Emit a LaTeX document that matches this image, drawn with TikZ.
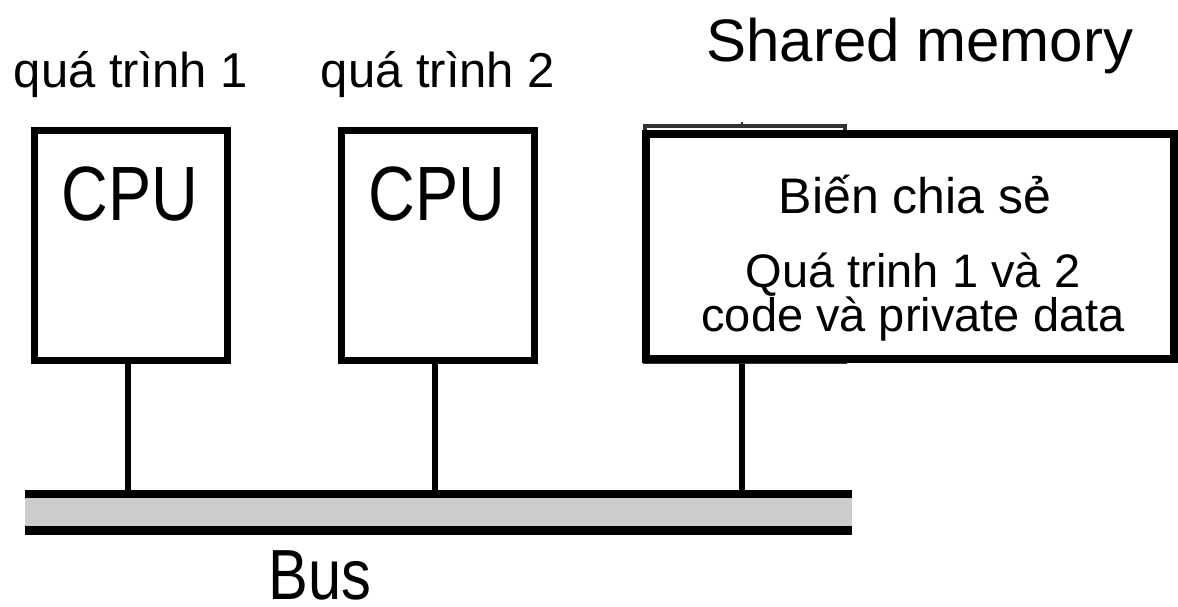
\documentclass[tikz,border=0pt]{standalone}
\usepackage{fontspec}
\setmainfont{Liberation Sans}
\newfontfamily\narrowfont[FakeStretch=0.84]{Liberation Sans}
\begin{document}
\begin{tikzpicture}[x=1pt,y=-1pt,
  cpubox/.style={draw=black,line width=7pt,fill=white},
  link/.style={draw=black,line width=6pt},
  lbl/.style={inner sep=0pt,anchor=base,font=\fontsize{49}{52}\selectfont},
  memtxt/.style={inner sep=0pt,anchor=base,font=\fontsize{47}{50}\selectfont},
  big/.style={inner sep=0pt,anchor=base,font=\narrowfont\fontsize{77}{80}\selectfont}]
\useasboundingbox (0,0) rectangle (1178,607);
% bus
\fill[gray!40] (25,494) rectangle (852,530);
\draw[line width=8pt] (25,494) -- (852,494);
\draw[line width=9pt] (25,530) -- (852,530);
\coordinate (b1) at (128,494);
\coordinate (b2) at (435,494);
\coordinate (b3) at (742,494);
% CPU boxes
\node[cpubox,minimum width=193pt,minimum height=229pt,inner sep=0pt] (cpu1) at (130.5,245.5) {};
\node[cpubox,minimum width=193pt,minimum height=229pt,inner sep=0pt] (cpu2) at (437.5,245.5) {};
\node[big] (t1) at (130,220) {CPU};
\node[big] (t2) at (437,220) {CPU};
% old memory box outline (behind)
\node[draw=black!80,line width=4pt,minimum width=200pt,minimum height=236pt,inner sep=0pt] (mem) at (745,244) {};
\draw[line width=2pt,black!80] (742,122) -- (742,127);
% connectors
\draw[link] (cpu1.south -| b1) -- (b1);
\draw[link] (cpu2.south -| b2) -- (b2);
\draw[link] (mem.south -| b3) -- (b3);
% shared memory box
\node[draw=black,line width=8pt,fill=white,minimum width=528pt,minimum height=225pt,inner sep=0pt] (shm) at (910,246.5) {};
\node[lbl,font=\fontsize{50}{54}\selectfont] (s1) at (915,213) {Biến chia sẻ};
\node[memtxt] (s2) at (913,287) {Quá trinh 1 và 2};
\node[memtxt] (s3) at (913,331) {code và private data};
% labels
\node[lbl] (p1) at (131,88) {quá trình 1};
\node[lbl] (p2) at (438,88) {quá trình 2};
\node[inner sep=0pt,anchor=base,font=\fontsize{60}{64}\selectfont] (sm) at (920,62) {Shared memory};
\node[big,font=\narrowfont\fontsize{71}{74}\selectfont] (bus) at (320,599) {Bus};
\end{tikzpicture}
\end{document}
